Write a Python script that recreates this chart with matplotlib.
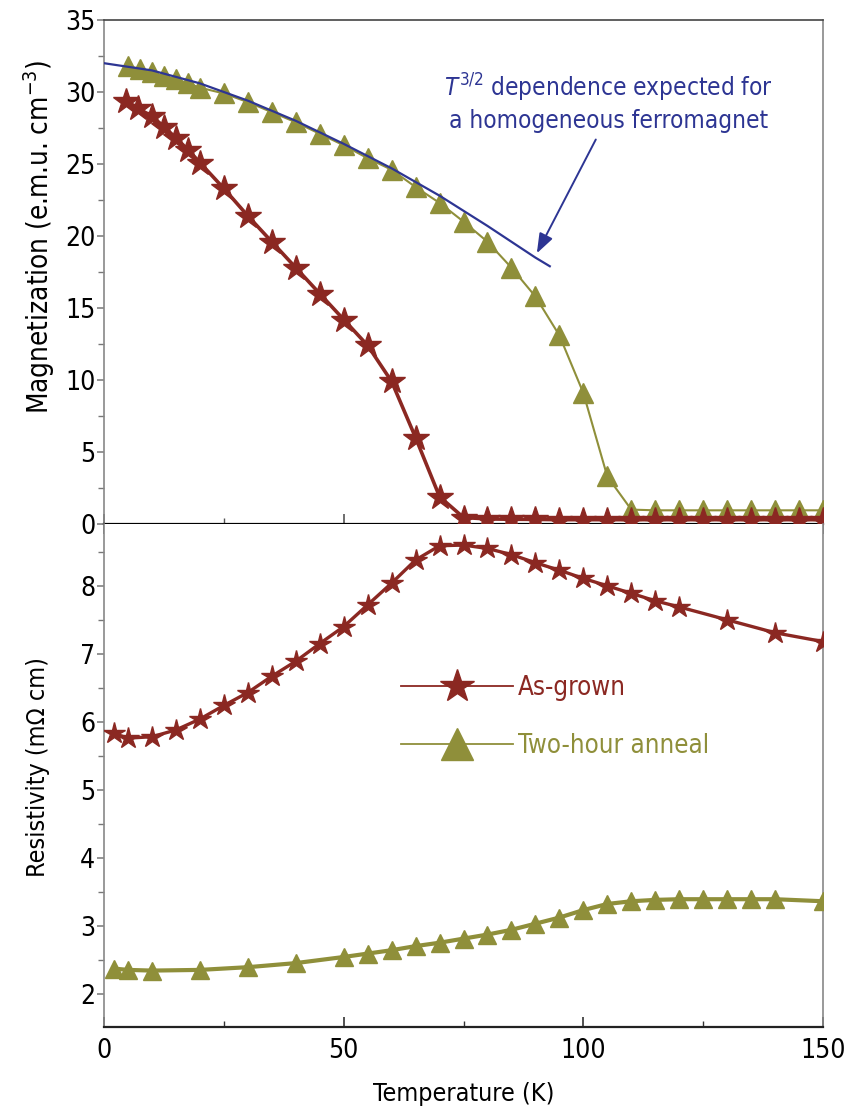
import numpy as np
import matplotlib
matplotlib.use("Agg")
import matplotlib.pyplot as plt
from matplotlib import font_manager
from matplotlib.lines import Line2D

# pick a narrow sans font if we have one
avail = set(f.name for f in font_manager.fontManager.ttflist)
if 'Liberation Sans Narrow' in avail:
    FONT = 'Liberation Sans Narrow'
    plt.rcParams['font.stretch'] = 'normal'
else:
    FONT = 'DejaVu Sans'
    plt.rcParams['font.stretch'] = 'condensed'
plt.rcParams['font.family'] = [FONT, 'DejaVu Sans']
plt.rcParams['mathtext.fontset'] = 'custom'
plt.rcParams['mathtext.rm'] = FONT
plt.rcParams['mathtext.it'] = FONT + ':italic'
plt.rcParams['font.size'] = 18

RED = '#8b2822'
OLIVE = '#8f8f3a'
BLUE = '#2d3593'

# ---- magnetization (top) ----
t_mag_grown = [4.5, 7, 10, 12.5, 15, 17.5, 20, 25, 30, 35, 40, 45, 50, 55, 60, 65, 70,
               75, 80, 85, 90, 95, 100, 105, 110, 115, 120, 125, 130, 135, 140, 145, 150]
m_grown = [29.4, 28.9, 28.3, 27.6, 26.8, 26.0, 25.1, 23.3, 21.4, 19.6, 17.8, 16.0, 14.2,
           12.4, 9.9, 6.0, 1.9, 0.45, 0.35, 0.33, 0.32, 0.3, 0.3, 0.3, 0.3, 0.3,
           0.3, 0.3, 0.3, 0.3, 0.3, 0.3, 0.3]

t_mag_anneal = [5, 7.5, 10, 12.5, 15, 17.5, 20, 25, 30, 35, 40, 45, 50, 55, 60, 65, 70,
                75, 80, 85, 90, 95, 100, 105, 110, 115, 120, 125, 130, 135, 140, 145, 150]
m_anneal = [31.8, 31.6, 31.4, 31.1, 30.9, 30.6, 30.3, 29.9, 29.3, 28.6, 27.9, 27.1, 26.3,
            25.4, 24.6, 23.4, 22.3, 21.0, 19.6, 17.8, 15.8, 13.1, 9.1, 3.3, 1.0, 0.95,
            0.95, 0.95, 0.95, 0.95, 0.95, 0.95, 0.95]

# T^3/2 curve
t_fit = [0, 10, 20, 30, 40, 50, 60, 70, 80, 90, 93]
m_fit = [32.0, 31.5, 30.6, 29.4, 28.0, 26.4, 24.7, 22.8, 20.7, 18.5, 17.9]

# ---- resistivity (bottom) ----
t_res_grown = [2, 5, 10, 15, 20, 25, 30, 35, 40, 45, 50, 55, 60, 65, 70, 75, 80, 85, 90,
               95, 100, 105, 110, 115, 120, 130, 140, 150]
r_grown = [5.83, 5.76, 5.78, 5.88, 6.04, 6.24, 6.43, 6.67, 6.89, 7.15, 7.40, 7.72, 8.04,
           8.38, 8.59, 8.60, 8.55, 8.46, 8.34, 8.23, 8.11, 8.00, 7.89, 7.78, 7.69, 7.50,
           7.31, 7.18]

t_res_anneal = [2, 5, 10, 20, 30, 40, 50, 55, 60, 65, 70, 75, 80, 85, 90, 95, 100, 105,
                110, 115, 120, 125, 130, 135, 140, 150]
r_anneal = [2.37, 2.35, 2.34, 2.35, 2.39, 2.45, 2.54, 2.59, 2.64, 2.70, 2.75, 2.81, 2.87,
            2.94, 3.03, 3.12, 3.23, 3.32, 3.36, 3.38, 3.39, 3.39, 3.39, 3.39, 3.39, 3.36]

fig = plt.figure(figsize=(8.48, 11.10), dpi=100)
L, R = 104 / 848, 823 / 848
y_top, y_mid, y_bot = 1 - 20 / 1110, 1 - 524 / 1110, 1 - 1027 / 1110
ax1 = fig.add_axes([L, y_mid, R - L, y_top - y_mid])
ax2 = fig.add_axes([L, y_bot, R - L, y_mid - y_bot])

# top panel
ax1.plot(t_mag_anneal, m_anneal, '-', color=OLIVE, lw=1.5, marker='^', ms=14, mec=OLIVE, zorder=3)
ax1.plot(t_fit, m_fit, '-', color=BLUE, lw=1.6, zorder=4)
ax1.plot(t_mag_grown, m_grown, '-', color=RED, lw=2.6, marker='*', ms=19, mec=RED, zorder=5)

ax1.text(105.2, 29.3, '$T^{3/2}$ dependence expected for\na homogeneous ferromagnet',
         color=BLUE, fontsize=17.5, ha='center', va='center', linespacing=1.25)
ax1.annotate('', xy=(90.3, 18.8), xytext=(102.6, 26.7),
             arrowprops=dict(arrowstyle='-|>,head_length=0.6,head_width=0.22',
                             color=BLUE, lw=1.4, shrinkA=0, shrinkB=0, mutation_scale=20))

ax1.set_xlim(0, 150)
ax1.set_ylim(0, 35)
ax1.set_yticks(np.arange(0, 36, 5))
ax1.set_yticks(np.arange(2.5, 35, 5), minor=True)
ax1.set_xticks([0, 50, 100, 150])
ax1.set_xticks([25, 75, 125], minor=True)
ax1.tick_params(axis='x', which='both', direction='inout', labelbottom=False, color='#555555')
ax1.tick_params(axis='x', which='major', length=14, width=1.2)
ax1.tick_params(axis='x', which='minor', length=8, width=1.0)
ax1.set_ylabel('Magnetization (e.m.u. cm$^{\u22123}$)', fontsize=20)
ax1.yaxis.set_label_coords(-0.066, 0.57)

# bottom panel
ax2.plot(t_res_grown, r_grown, '-', color=RED, lw=2.4, marker='*', ms=16, mec=RED, zorder=4)
ax2.plot(t_res_anneal, r_anneal, '-', color=OLIVE, lw=3.0, marker='^', ms=13, mec=OLIVE, zorder=3)

ax2.set_xlim(0, 150)
ax2.set_ylim(1.51, 8.91)
ax2.set_yticks(np.arange(2, 9, 1))
ax2.set_yticks(np.arange(2.5, 9, 1), minor=True)
ax2.set_xticks([0, 50, 100, 150])
ax2.set_xticks([25, 75, 125], minor=True)
ax2.tick_params(axis='x', which='both', direction='in', color='#333333', pad=8)
ax2.tick_params(axis='x', which='major', length=7, width=1.2)
ax2.tick_params(axis='x', which='minor', length=4.5, width=1.0)
ax2.set_xlabel('Temperature (K)', labelpad=13)
ax2.set_ylabel('Resistivity (m\u03a9 cm)')
ax2.yaxis.set_label_coords(-0.075, 0.517)

for ax in (ax1, ax2):
    ax.tick_params(axis='both', which='major', labelsize=19)
    ax.tick_params(axis='y', which='both', direction='out', color='#777777', pad=1)
    ax.tick_params(axis='y', which='major', length=5.3, width=1.1)
    ax.tick_params(axis='y', which='minor', length=4, width=1.0)
    ax.spines['left'].set_color('#888888')
    ax.spines['right'].set_color('#888888')
    ax.spines['left'].set_linewidth(1.2)
    ax.spines['right'].set_linewidth(1.2)
ax1.spines['top'].set_color('#444444')
ax1.spines['top'].set_linewidth(1.2)
ax1.spines['bottom'].set_color('black')
ax1.spines['bottom'].set_linewidth(1.6)
ax2.spines['top'].set_visible(False)
ax2.spines['bottom'].set_color('#222222')
ax2.spines['bottom'].set_linewidth(1.6)

handles = [Line2D([], [], color=RED, lw=1.3, marker='*', ms=25, mec=RED),
           Line2D([], [], color=OLIVE, lw=1.3, marker='^', ms=23, mec=OLIVE)]
leg = ax2.legend(handles, ['As-grown', 'Two-hour anneal'], loc='upper left',
                 bbox_to_anchor=(0.413, 0.700), frameon=False, borderpad=0, borderaxespad=0,
                 handlelength=4.36, handletextpad=0.2, labelspacing=1.23, fontsize=18.5)
for txt, c in zip(leg.get_texts(), [RED, OLIVE]):
    txt.set_color(c)

fig.savefig('out.png', dpi=100)
